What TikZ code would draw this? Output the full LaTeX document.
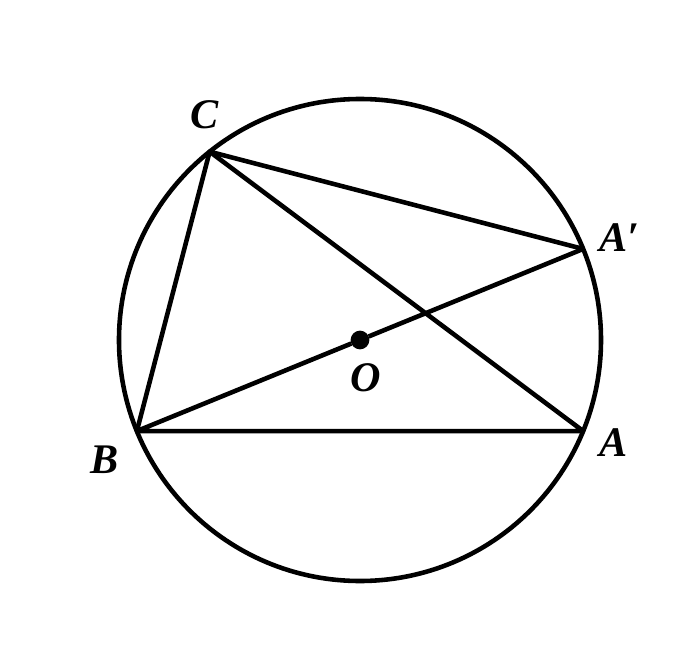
\documentclass[tikz,border=0pt]{standalone}
\usepackage{fontspec}
\setmainfont{Liberation Serif}
\usetikzlibrary{calc}
\usetikzlibrary{positioning}

\begin{document}
\begin{tikzpicture}[line width=2.6pt, line join=round]
 	  \tikzstyle{vert}=[draw, circle, inner sep=0pt, minimum size=8pt, fill]
 	  \tikzstyle{lab}=[font=\fontsize{24}{28}\selectfont\bfseries\itshape, inner sep=0pt]
\useasboundingbox (-7.2,6.8) rectangle (6.64,-6.08);
\draw (0,0) circle (4.82cm);
    \node[vert] (O) at (0,0) {};
    \coordinate (C) at (128.6:4.82cm);
    \coordinate (Ap) at (22.2:4.82cm);
    \coordinate (A) at (-22.2:4.82cm);
    \coordinate (B) at (202.2:4.82cm);
\draw (B) -- (C) -- (Ap);
\draw (C) -- (A) -- (B) -- (O) -- (Ap);
    \node[lab, anchor=west] (lA) at (4.74,-2.06) {A};
    \node[lab, anchor=west] (lAp) at (4.74,2.04) {A′};
    \node[lab] (lB) at (-5.1,-2.4) {B};
    \node[lab] (lC) at (-3.1,4.5) {C};
    \node[lab] (lO) at (0.12,-0.76) {O};
   \end{tikzpicture}
\end{document}
